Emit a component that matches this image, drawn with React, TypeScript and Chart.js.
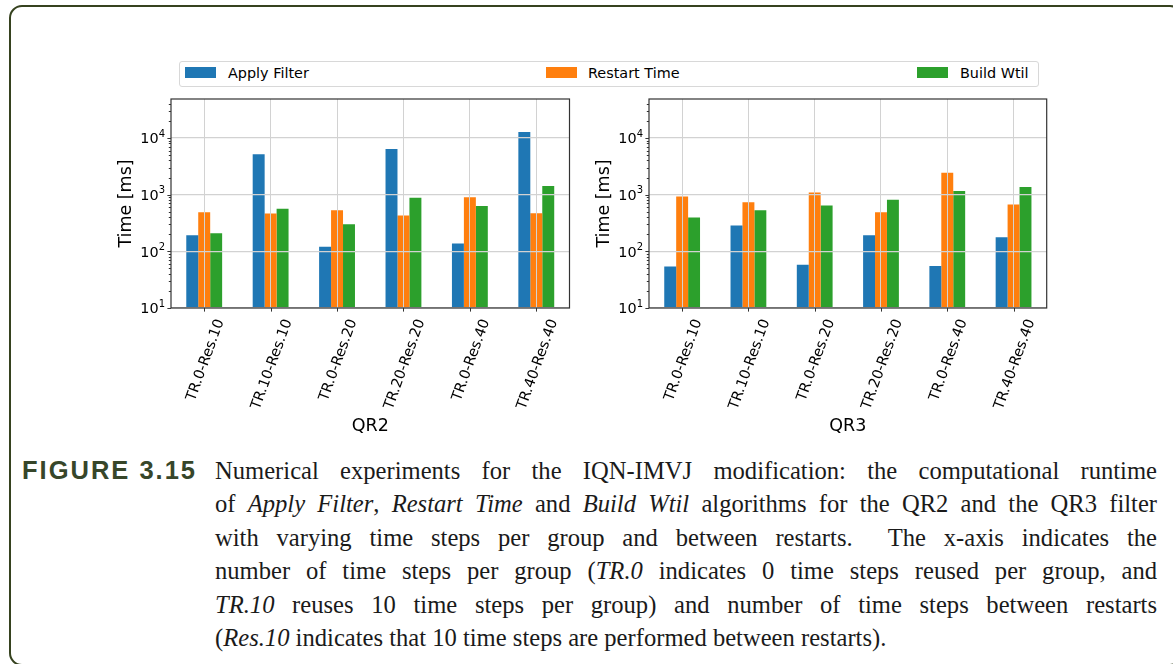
import React, { useEffect, useRef } from "react";
import { Chart, registerables } from "chart.js";

Chart.register(...registerables);

// Run configurations (x categories)
const categories = [
  "TR.0-Res.10",
  "TR.10-Res.10",
  "TR.0-Res.20",
  "TR.20-Res.20",
  "TR.0-Res.40",
  "TR.40-Res.40",
];

const seriesNames = ["Apply Filter", "Restart Time", "Build Wtil"];
const seriesColors = ["#1f77b4", "#ff7f0e", "#2ca02c"];

// QR2 filter runtimes [ms]
const qr2ApplyFilter = [192, 5130, 120, 6370, 137, 12700];
const qr2RestartTime = [491, 466, 532, 429, 903, 471];
const qr2BuildWtil = [209, 561, 301, 878, 627, 1413];

// QR3 filter runtimes [ms]
const qr3ApplyFilter = [54, 286, 58, 192, 55, 177];
const qr3RestartTime = [930, 737, 1094, 491, 2427, 671];
const qr3BuildWtil = [395, 532, 644, 809, 1153, 1358];

// Log axis decades
const yMajorTicks = [10, 100, 1000, 10000];
const yMin = 10;
const yMax = 48600;

const yAxisTitle = "Time [ms]";

const TICK_FONT = '14.4px "DejaVu Sans"';
const SUP_FONT = '10px "DejaVu Sans"';
const TITLE_FONT = '17.5px "DejaVu Sans"';

// Draws frame, tick marks, mathtext-style tick labels and axis titles
const axesDecor = {
  id: "axesDecor",
  afterDraw(chart: any, _args: any, opts: any) {
    const { ctx, chartArea: a } = chart;
    const xs = chart.scales.x;
    const ys = chart.scales.y;
    ctx.save();

    // tick marks
    ctx.strokeStyle = "#333";
    ctx.lineWidth = 1;
    ctx.beginPath();
    for (let e = 1; e <= 4; e++) {
      for (let m = 2; m <= 9; m++) {
        const v = m * Math.pow(10, e);
        if (v > ys.max) continue;
        const py = Math.round(ys.getPixelForValue(v)) + 0.5;
        ctx.moveTo(a.left - 2.2, py);
        ctx.lineTo(a.left, py);
      }
    }
    yMajorTicks.forEach((v) => {
      const py = Math.round(ys.getPixelForValue(v)) + 0.5;
      ctx.moveTo(a.left - 3.6, py);
      ctx.lineTo(a.left, py);
    });
    categories.forEach((_, i) => {
      const px = Math.round(xs.getPixelForValue(i)) + 0.5;
      ctx.moveTo(px, a.bottom);
      ctx.lineTo(px, a.bottom + 3.6);
    });
    ctx.stroke();

    // frame
    ctx.strokeStyle = "#333";
    ctx.lineWidth = 1.2;
    ctx.strokeRect(a.left, a.top, a.right - a.left, a.bottom - a.top);

    // y tick labels: 10 with superscript exponent
    ctx.fillStyle = "#000";
    ctx.textBaseline = "alphabetic";
    ctx.textAlign = "left";
    yMajorTicks.forEach((v) => {
      const py = ys.getPixelForValue(v);
      const exp = String(Math.round(Math.log10(v)));
      ctx.font = SUP_FONT;
      const w2 = ctx.measureText(exp).width;
      ctx.font = TICK_FONT;
      const w1 = ctx.measureText("10").width;
      const xr = a.left - 6;
      ctx.fillText("10", xr - w2 - w1, py + 5.3);
      ctx.font = SUP_FONT;
      ctx.fillText(exp, xr - w2, py - 1.2);
    });

    // rotated category labels, centred under each tick
    const th = (70 * Math.PI) / 180;
    ctx.font = TICK_FONT;
    categories.forEach((lab, i) => {
      const px = xs.getPixelForValue(i);
      const w = ctx.measureText(lab).width;
      const hh = 10.5;
      const H = w * Math.sin(th) + hh * Math.cos(th);
      const cy = a.bottom + 9.5 + H / 2;
      ctx.save();
      ctx.translate(px, cy);
      ctx.rotate(-th);
      ctx.textAlign = "center";
      ctx.fillText(lab, 0, hh / 2);
      ctx.restore();
    });

    // axis titles
    ctx.font = TITLE_FONT;
    ctx.textAlign = "center";
    ctx.fillText(opts.xTitle, (a.left + a.right) / 2, a.bottom + 123);
    ctx.save();
    ctx.translate(a.left - 40, (a.top + a.bottom) / 2);
    ctx.rotate(-Math.PI / 2);
    ctx.fillText(yAxisTitle, 0, 0);
    ctx.restore();

    ctx.restore();
  },
};

type PanelProps = {
  left: number;
  title: string;
  values: number[][];
  padLeft: number;
  padRight: number;
};

function BarPanel({ left, title, values, padLeft, padRight }: PanelProps) {
  const ref = useRef<HTMLCanvasElement | null>(null);

  useEffect(() => {
    if (!ref.current) return;
    const chart = new Chart(ref.current, {
      type: "bar",
      data: {
        labels: categories,
        datasets: seriesNames.map((name, k) => ({
          label: name,
          data: values[k],
          backgroundColor: seriesColors[k],
          borderWidth: 0,
          categoryPercentage: 0.54,
          barPercentage: 1,
        })),
      },
      options: {
        animation: false,
        responsive: false,
        maintainAspectRatio: false,
        layout: { padding: { left: padLeft, right: padRight, top: 9, bottom: 132 } },
        plugins: {
          legend: { display: false },
          tooltip: { enabled: false },
          axesDecor: { xTitle: title },
        } as any,
        scales: {
          x: {
            offset: true,
            grid: { offset: false, color: "#d2d2d2", lineWidth: 1, drawTicks: false, z: 1 },
            border: { display: false },
            ticks: { display: false },
          },
          y: {
            type: "logarithmic",
            min: yMin,
            max: yMax,
            afterBuildTicks: (s: any) => {
              s.ticks = yMajorTicks.map((v) => ({ value: v }));
            },
            grid: { color: "#d2d2d2", lineWidth: 1.3, drawTicks: false, z: 1 },
            border: { display: false },
            ticks: { display: false },
          },
        },
      },
      plugins: [axesDecor],
    } as any);
    return () => chart.destroy();
  }, []);

  return (
    <canvas
      ref={ref}
      width={490}
      height={350}
      style={{ position: "absolute", left, top: 90, width: 490, height: 350 }}
    />
  );
}

function Legend() {
  const swatchX = [185, 546, 917];
  const textX = [228, 588, 960];
  return (
    <>
      <div
        style={{
          position: "absolute",
          left: 179,
          top: 61,
          width: 860,
          height: 26,
          border: "1px solid #d8d8d8",
          borderRadius: 3,
          boxSizing: "border-box",
          background: "#fff",
        }}
      />
      {seriesNames.map((n, k) => (
        <React.Fragment key={n}>
          <div
            style={{
              position: "absolute",
              left: swatchX[k],
              top: 67,
              width: 31,
              height: 10.5,
              background: seriesColors[k],
            }}
          />
          <div
            style={{
              position: "absolute",
              left: textX[k],
              top: 63,
              height: 20,
              lineHeight: "20px",
              fontFamily: '"DejaVu Sans"',
              fontSize: 14.4,
              color: "#000",
              whiteSpace: "nowrap",
            }}
          >
            {n}
          </div>
        </React.Fragment>
      ))}
    </>
  );
}

const captionLines: React.ReactNode[] = [
  <>Numerical experiments for the IQN-IMVJ modification: the computational runtime</>,
  <>
    of <i>Apply Filter</i>, <i>Restart Time</i> and <i>Build Wtil</i> algorithms for the QR2 and the QR3 filter
  </>,
  <>with varying time steps per group and between restarts.&nbsp; The x-axis indicates the</>,
  <>
    number of time steps per group (<i>TR.0</i> indicates 0 time steps reused per group, and
  </>,
  <>
    <i>TR.10</i> reuses 10 time steps per group) and number of time steps between restarts
  </>,
  <>
    (<i>Res.10</i> indicates that 10 time steps are performed between restarts).
  </>,
];

function Caption() {
  return (
    <>
      <div
        style={{
          position: "absolute",
          left: 22,
          top: 454,
          lineHeight: "33.4px",
          fontFamily: '"Liberation Sans", Arial, sans-serif',
          fontWeight: 700,
          fontSize: 25.5,
          letterSpacing: "2px",
          color: "#37462a",
          whiteSpace: "nowrap",
        }}
      >
        FIGURE 3.15
      </div>
      <div
        style={{
          position: "absolute",
          left: 215,
          top: 454,
          width: 942,
          fontFamily: '"Liberation Serif", "Times New Roman", serif',
          fontSize: 24.6,
          lineHeight: "33.4px",
          color: "#1a1a1a",
        }}
      >
        {captionLines.map((ln, i) => (
          <div
            key={i}
            style={{
              textAlign: i < captionLines.length - 1 ? "justify" : "left",
              textAlignLast: i < captionLines.length - 1 ? "justify" : "left",
              whiteSpace: "nowrap",
            }}
          >
            {ln}
          </div>
        ))}
      </div>
    </>
  );
}

export default function App() {
  return (
    <div
      style={{
        position: "fixed",
        left: 0,
        top: 0,
        width: 1173,
        height: 664,
        overflow: "hidden",
        background: "#fff",
      }}
    >
      <div
        style={{
          position: "absolute",
          left: 9,
          top: 5,
          width: 1174,
          height: 661,
          border: "2.5px solid #36421f",
          borderRadius: 13,
          boxSizing: "border-box",
        }}
      />
      <Legend />
      <BarPanel
        left={100}
        title="QR2"
        values={[qr2ApplyFilter, qr2RestartTime, qr2BuildWtil]}
        padLeft={71}
        padRight={20.5}
      />
      <BarPanel
        left={580}
        title="QR3"
        values={[qr3ApplyFilter, qr3RestartTime, qr3BuildWtil]}
        padLeft={69}
        padRight={23.3}
      />
      <Caption />
    </div>
  );
}
